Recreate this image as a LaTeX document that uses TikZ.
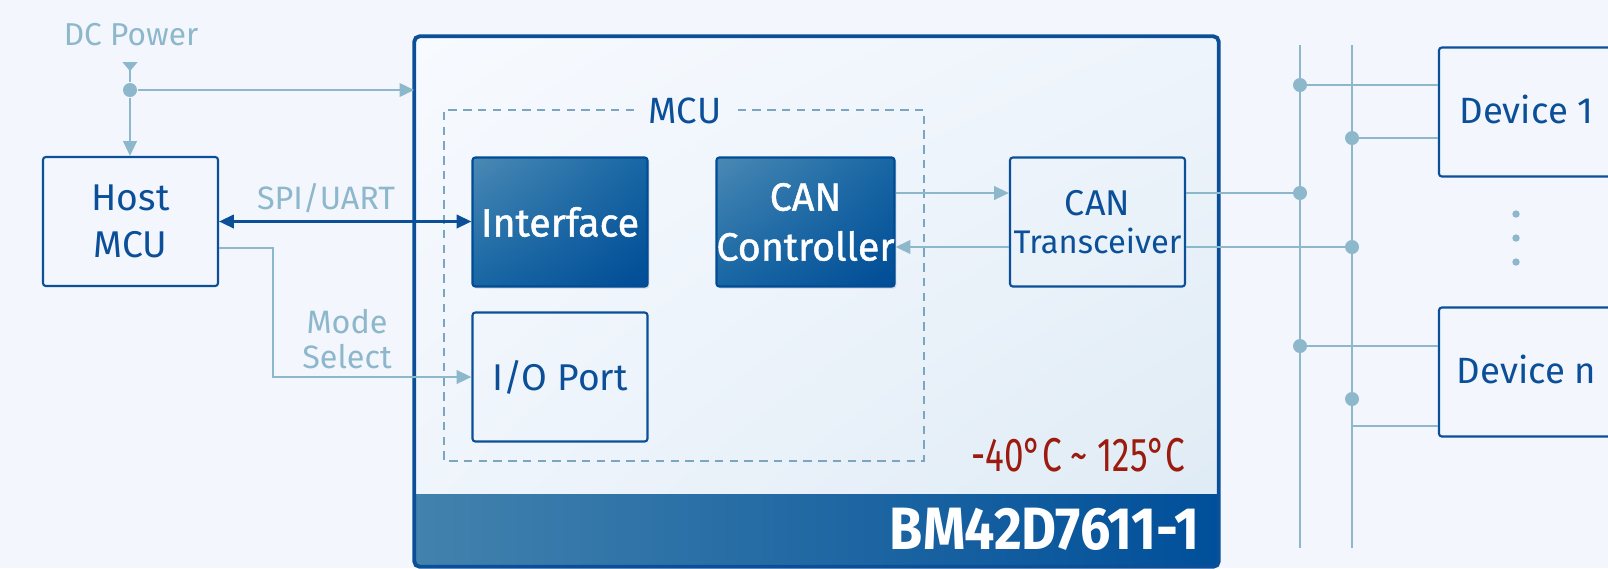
\documentclass[tikz,border=0pt]{standalone}
\usepackage{fontspec}
\setmainfont{Fira Sans}
\newfontfamily\narrowfont[FakeStretch=0.74]{Fira Sans}
\newfontfamily\partfont[FakeStretch=0.9]{Fira Sans}
\newfontfamily\heavyfont[FakeBold=1.2]{Fira Sans}
\usetikzlibrary{arrows.meta,shadows,shadings,positioning}

\definecolor{pagebg}{HTML}{F4F6FD}
\definecolor{dkblue}{HTML}{0B4F99}
\definecolor{sigline}{HTML}{8DB7CB}
\definecolor{dashline}{HTML}{7AA6C2}
\definecolor{tempred}{HTML}{9B1B0F}
\definecolor{modA}{HTML}{F7FAFF}
\definecolor{modB}{HTML}{EEF4FB}
\definecolor{modC}{HTML}{DDEAF4}
\definecolor{blkA}{HTML}{4A89B4}
\definecolor{blkB}{HTML}{1766A4}
\definecolor{blkC}{HTML}{004C96}
\definecolor{bandA}{HTML}{4282AD}
\definecolor{bandB}{HTML}{004F9A}

\begin{document}
\begin{tikzpicture}[
	>={Triangle[length=4.2pt,width=3.8pt]},
	box/.style={draw=dkblue, line width=0.6pt, rounded corners=0.8pt, text=dkblue,
		minimum width=1.75cm, minimum height=1.29cm, align=center, inner sep=0pt,
		font=\fontsize{10.6}{13.4}\selectfont},
	block/.style={box, draw=blkC, upper left=blkA, upper right=blkB, lower left=blkB,
		lower right=blkC, text=white, font=\heavyfont\fontsize{11.2}{14.2}\selectfont,
		drop shadow={shadow xshift=0.5pt, shadow yshift=-0.6pt, opacity=0.25}},
	devbox/.style={box, font=\fontsize{10.4}{12}\selectfont},
	sig/.style={draw=sigline, line width=0.75pt},
	spi/.style={draw=dkblue, line width=0.7pt},
	junct/.style={circle, fill=sigline, inner sep=0pt, minimum size=0.14cm},
	lbl/.style={text=sigline, font=\fontsize{9.2}{10}\selectfont, align=center},
	mcuedge/.style={dashline, line width=0.5pt, dash pattern=on 2.4pt off 1.8pt}
	]
	
	\useasboundingbox (0,0) rectangle (16.08,-5.68);
	\clip (0,0) rectangle (16.08,-5.68);
	\fill[pagebg] (0,0) rectangle (16.08,-5.68);
	
	% module
	\node[upper left=modA, upper right=modB, lower left=modB, lower right=modC,
		rounded corners=1.5pt, minimum width=8.03cm, minimum height=5.29cm, inner sep=0pt]
		(module) at (8.165,-3.015) {};
	\begin{scope}
		\clip[rounded corners=1.5pt] (module.south west) rectangle (module.north east);
		\shade[left color=bandA, right color=bandB] (module.south west) rectangle ([yshift=0.72cm]module.south east);
	\end{scope}
	\draw[dkblue, line width=1.1pt, rounded corners=1.5pt] (module.south west) rectangle (module.north east);
	
	\node[text=dkblue, font=\fontsize{10.4}{12}\selectfont, inner xsep=4pt] (mcu) at (6.85,-1.11) {MCU};
	\draw[mcuedge] (mcu.west |- 0,-1.10) -- (4.44,-1.10) -- (4.44,-4.61) -- (9.24,-4.61) -- (9.24,-1.10) -- (mcu.east |- 0,-1.10);
	
	\node[text=tempred, font=\narrowfont\fontsize{13.5}{15}\selectfont, anchor=east, inner sep=0pt] (temp) at (11.86,-4.55) {-40°C \textasciitilde{} 125°C};
	\node[text=white, font=\partfont\bfseries\fontsize{17}{19}\selectfont, anchor=east, inner sep=0pt] (part) at (12.00,-5.29) {BM42D7611-1};
	
	% blocks
	\node[box] (host) at (1.305,-2.215) {Host\\MCU};
	\node[block] (iface) at (5.60,-2.22) {Interface};
	\node[block] (canctl) at (8.055,-2.22) {CAN\\Controller};
	\node[box] (ioport) at (5.60,-3.77) {\raisebox{0.03cm}{I/O Port}};
	\node[box, font=\fontsize{10.2}{10.8}\selectfont] (xcvr) at (10.975,-2.22) {CAN\\{\fontsize{9.3}{10.8}\selectfont Transceiver}};
	\node[devbox] (dev1) at (15.265,-1.12) {\raisebox{0.05cm}{Device 1}};
	\node[devbox] (devn) at (15.265,-3.72) {\raisebox{0.05cm}{Device n}};
	
	% power
	\node[lbl, font=\fontsize{9}{10}\selectfont] (dclbl) at (1.31,-0.35) {DC Power};
	\coordinate (dctop) at (1.30,-0.62);
	\node[junct] (dcdot) at (1.30,-0.90) {};
	\draw[sig, {Triangle[reversed,length=2.6pt,width=4.2pt]}-] (dctop) -- (dcdot);
	\draw[sig, ->] (dcdot) -- (dcdot |- host.north);
	\draw[sig, ->] (dcdot) -- (dcdot -| module.west);
	
	% host links
	\draw[spi, <->] (host.east) -- (host.east -| iface.west);
	\node[lbl] (spilbl) at (3.26,-1.98) {SPI/UART};
	\draw[sig, ->] ([yshift=-0.265cm]host.east) -- ++(0.54,0) |- (ioport.west);
	\node[lbl] (modelbl) at (3.47,-3.39) {Mode\\Select};
	
	% can
	\draw[sig, ->] ([yshift=0.29cm]canctl.east) -- ([yshift=0.29cm]xcvr.west);
	\draw[sig, ->] ([yshift=-0.25cm]xcvr.west) -- ([yshift=-0.25cm]canctl.east);
	
	% bus
	\foreach \b/\x in {1/13.00, 2/13.52}
	{
		\draw[sig] (\x,-0.45) coordinate (bus\b) -- (\x,-5.48);
	}
	
	\coordinate (xh) at ([yshift=0.29cm]xcvr.east);
	\coordinate (xl) at ([yshift=-0.25cm]xcvr.east);
	\draw[sig] (xh) -- (xh -| bus1) node[junct] {};
	\draw[sig] (xl) -- (xl -| bus2) node[junct] {};
	
	\coordinate (d1h) at ([yshift=0.27cm]dev1.west);
	\coordinate (d1l) at ([yshift=-0.26cm]dev1.west);
	\draw[sig] (d1h -| bus1) node[junct] {} -- (d1h);
	\draw[sig] (d1l -| bus2) node[junct] {} -- (d1l);
	
	\coordinate (dnh) at ([yshift=0.26cm]devn.west);
	\coordinate (dnl) at ([yshift=-0.54cm]devn.west);
	\draw[sig] (dnh -| bus1) node[junct] {} -- (dnh);
	\node[junct] (dnjn) at ([yshift=-0.27cm]devn.west -| bus2) {};
	\draw[sig] (dnl -| bus2) -- (dnl);
	
	\foreach \y in {-2.14, -2.38, -2.62}
	{
		\fill[sigline] (15.16,\y) circle (0.037);
	}
	
\end{tikzpicture}
\end{document}
